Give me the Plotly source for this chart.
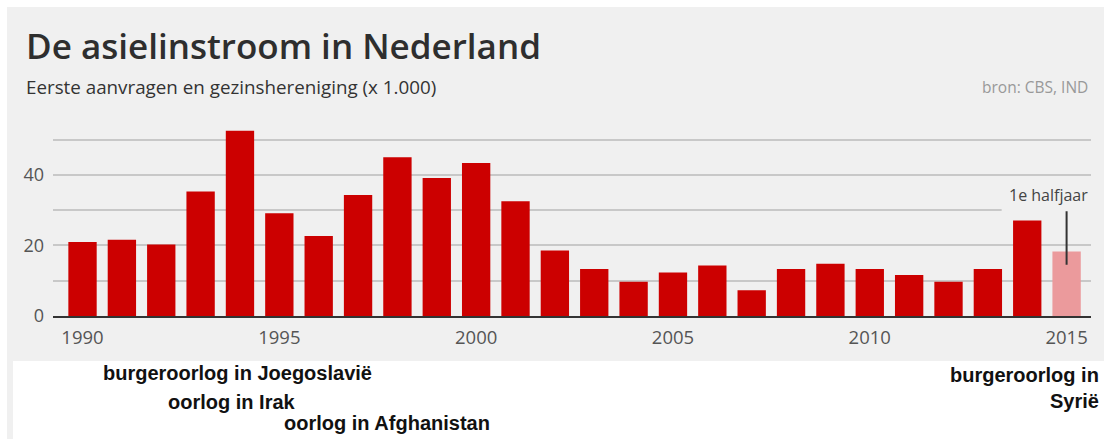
import plotly.graph_objects as go

# ---- data ----
years = list(range(1990, 2016))
values = [21.0, 21.6, 20.3, 35.3, 52.5, 29.1, 22.7, 34.3, 45.0, 39.1, 43.4, 32.5,
          18.6, 13.3, 9.7, 12.3, 14.3, 7.3, 13.3, 14.8, 13.3, 11.6, 9.7, 13.3, 27.1, 18.3]
partial_years = [2015]  # only first half-year available
x_tickvals = [1990, 1995, 2000, 2005, 2010, 2015]
x_ticktext = ["1990", "1995", "2000", "2005", "2010", "2015"]
y_tickvals = [0, 10, 20, 30, 40, 50]
y_ticktext = ["0", "", "20", "", "40", ""]
title_text = "De asielinstroom in Nederland"
subtitle_text = "Eerste aanvragen en gezinshereniging (x 1.000)"
source_text = "bron: CBS, IND"
halfyear_label = "1e halfjaar"
events_left = ["burgeroorlog in Joegoslavië", "oorlog in Irak", "oorlog in Afghanistan"]
events_right = "burgeroorlog in<br>Syrië"

# ---- layout geometry (pixels) ----
W, H = 1104, 439
L, R, T, B = 53, 13, 122, 123
PW = W - L - R
PH = H - T - B


def px_x(px):
    return (px - L) / PW


def px_y(py):
    return (H - B - py) / PH


RED = "#cc0000"
PINK = "#eb9a9c"
BG = "#f0f0f0"
colors = [PINK if y in partial_years else RED for y in years]

fig = go.Figure()
fig.add_trace(go.Bar(x=years, y=values, marker=dict(color=colors, line=dict(width=0)),
                     width=0.72, hoverinfo="skip"))

fig.update_layout(
    width=W, height=H,
    margin=dict(l=L, r=R, t=T, b=B, pad=0),
    paper_bgcolor=BG, plot_bgcolor=BG,
    showlegend=False,
    xaxis=dict(range=[1989.25, 2015.62], tickvals=x_tickvals, ticktext=x_ticktext,
               showgrid=False, zeroline=False, showline=True, linecolor="#333333", linewidth=2,
               ticks="", ticklabelstandoff=4,
               tickfont=dict(family="Open Sans", size=18.5, color="#555555")),
    yaxis=dict(range=[0, 55], tickvals=y_tickvals, ticktext=y_ticktext,
               showgrid=True, gridcolor="#c8c8c8", gridwidth=1.5, zeroline=False,
               showline=False, ticks="", ticklabelstandoff=8,
               tickfont=dict(family="Open Sans", size=18, color="#555555")),
)

# white frame strips and white caption box
shapes = [
    dict(type="rect", xref="paper", yref="paper", x0=px_x(0), x1=px_x(W), y0=px_y(0), y1=px_y(7),
         fillcolor="white", line=dict(width=0), layer="below"),
    dict(type="rect", xref="paper", yref="paper", x0=px_x(0), x1=px_x(7), y0=px_y(0), y1=px_y(H),
         fillcolor="white", line=dict(width=0), layer="below"),
    dict(type="rect", xref="paper", yref="paper", x0=px_x(13), x1=px_x(W), y0=px_y(361), y1=px_y(H),
         fillcolor="white", line=dict(width=0), layer="below"),
    # break in 30-gridline next to the half-year label
    dict(type="rect", xref="x", yref="y", x0=2013.35, x1=2015.62, y0=29.3, y1=30.7,
         fillcolor=BG, line=dict(width=0), layer="between"),
]
fig.update_layout(shapes=shapes)

ann = []
ann.append(dict(text=title_text, xref="paper", yref="paper", x=px_x(24), y=px_y(45),
                xanchor="left", yanchor="middle", showarrow=False,
                font=dict(family="Open Sans", size=35, color="#2e2e2e", weight=600)))
ann.append(dict(text=subtitle_text, xref="paper", yref="paper", x=px_x(24), y=px_y(87),
                xanchor="left", yanchor="middle", showarrow=False,
                font=dict(family="Open Sans", size=18.8, color="#333333")))
ann.append(dict(text=source_text, xref="paper", yref="paper", x=px_x(1090), y=px_y(87),
                xanchor="right", yanchor="middle", showarrow=False,
                font=dict(family="Open Sans", size=15.5, color="#999999")))
# half-year pointer
ann.append(dict(text="", x=partial_years[0], y=14.5, ax=partial_years[0], ay=30.1,
                xref="x", yref="y", axref="x", ayref="y", showarrow=True, arrowhead=0,
                arrowwidth=2, arrowcolor="#333333", standoff=0, startstandoff=0))
ann.append(dict(text=halfyear_label, xref="paper", yref="y", x=px_x(1090), y=34.4,
                xanchor="right", yanchor="middle", showarrow=False,
                font=dict(family="Open Sans", size=16, color="#444444")))
# events
ev_pos = [(237.5, 373), (232.3, 401.7), (387.2, 423.3)]
for txt, (cx, cy) in zip(events_left, ev_pos):
    ann.append(dict(text="<b>" + txt + "</b>", xref="paper", yref="paper", x=px_x(cx), y=px_y(cy),
                    xanchor="center", yanchor="middle", showarrow=False,
                    font=dict(family="Liberation Sans", size=20, color="#111111")))
ann.append(dict(text="<b>" + events_right + "</b>", xref="paper", yref="paper", x=px_x(1101), y=px_y(388),
                xanchor="right", yanchor="middle", align="right", showarrow=False,
                font=dict(family="Liberation Sans", size=20, color="#111111")))
fig.update_layout(annotations=ann)

fig.write_html("out.html", config={"displayModeBar": False},
               post_script="document.body.style.margin='0';document.body.style.overflow='hidden';")
